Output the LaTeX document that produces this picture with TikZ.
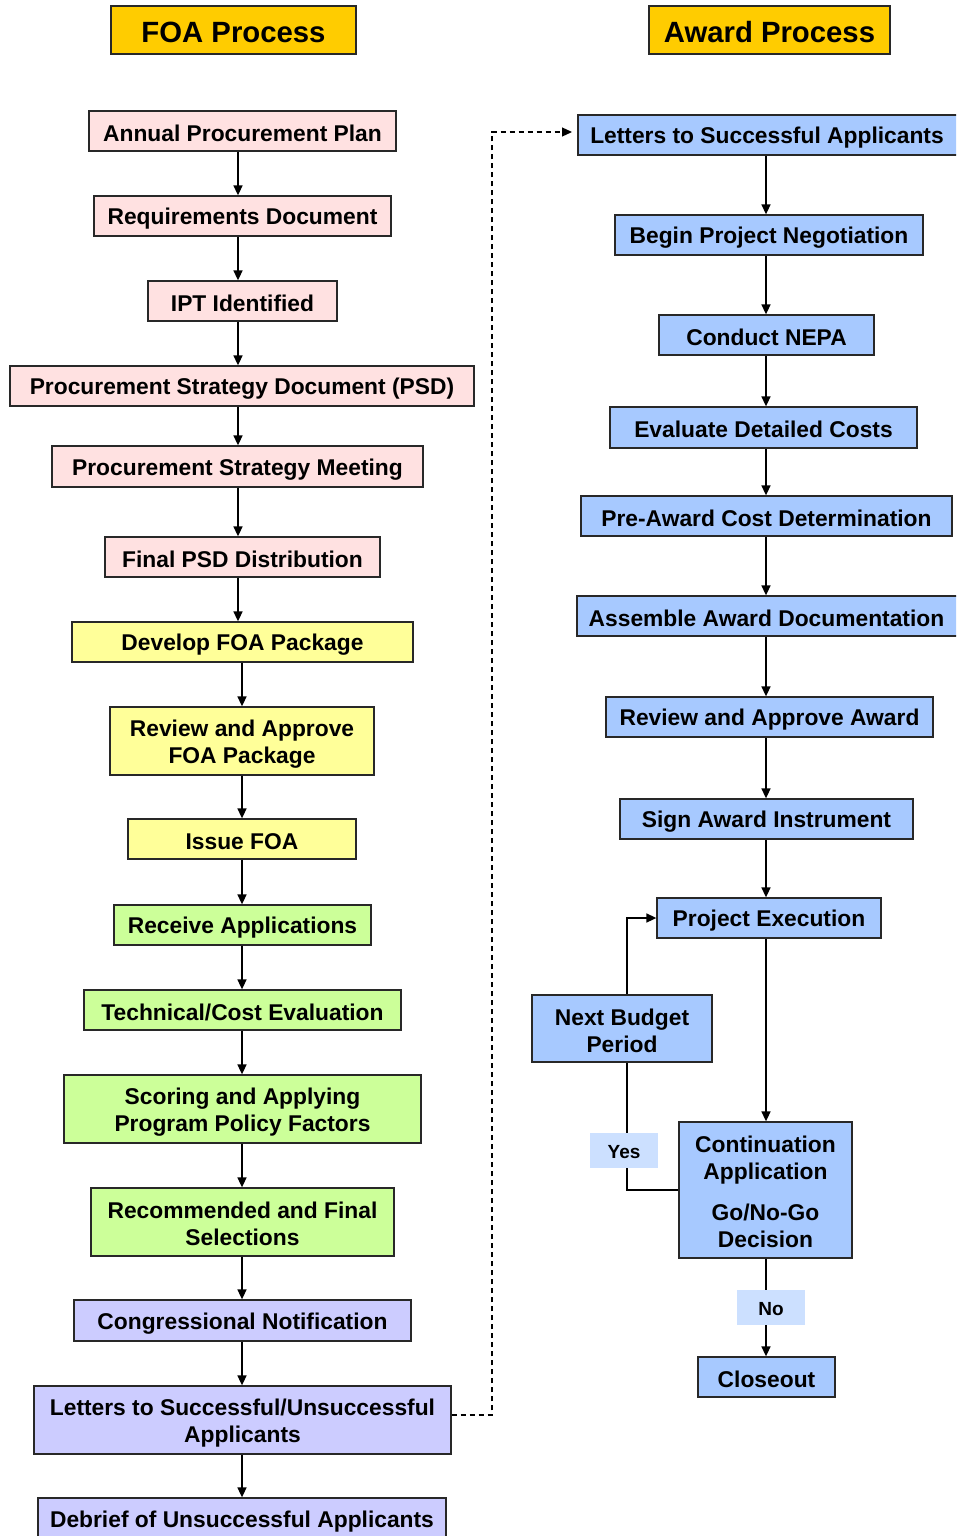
\documentclass[tikz,border=0pt]{standalone}
\usepackage{fontspec}
\setmainfont{Liberation Sans}
\usetikzlibrary{arrows.meta}
\definecolor{gold}{RGB}{255,204,0}
\definecolor{pinkfill}{RGB}{255,225,225}
\definecolor{yellowfill}{RGB}{255,255,153}
\definecolor{greenfill}{RGB}{204,255,153}
\definecolor{lavfill}{RGB}{204,204,255}
\definecolor{bluefill}{RGB}{167,201,255}
\definecolor{labelfill}{RGB}{204,224,255}
\definecolor{edge}{RGB}{40,40,40}
% line strut: keeps capitals centred in their boxes whatever the descenders
\newcommand{\lstrut}{\rule[-0.1em]{0pt}{1.08em}}
\tikzset{
  box/.style={draw=edge, line width=1.3pt, inner sep=0pt, align=center,
    font=\fontsize{22.8}{27}\selectfont\bfseries,
    execute at end node=\lstrut},
  title/.style={box, fill=gold, font=\fontsize{29.3}{34}\selectfont\bfseries},
  pinkbox/.style={box, fill=pinkfill},
  yellowbox/.style={box, fill=yellowfill},
  greenbox/.style={box, fill=greenfill},
  lavbox/.style={box, fill=lavfill},
  bluebox/.style={box, fill=bluefill},
  tag/.style={fill=labelfill, inner sep=0pt, minimum width=68pt, minimum height=35pt,
    font=\fontsize{19}{23}\selectfont\bfseries,
    execute at begin node=\lstrut},
  flow/.style={line width=1.6pt, -{Triangle[length=10pt,width=9pt]}},
  plain/.style={line width=1.6pt},
  dashflow/.style={line width=1.2pt, dash pattern=on 5pt off 4pt, -{Triangle[length=10pt,width=9pt]}}
}
% place a box by its corners: \boxat{style}{name}{x1}{y1}{x2}{y2}{text}
\newcommand{\boxat}[7]{%
  \node[#1, minimum width={(#5)-(#3)}, minimum height={(#6)-(#4)}]
    (#2) at ({((#3)+(#5))/2}, {((#4)+(#6))/2}) {\lstrut#7};}
\begin{document}
\begin{tikzpicture}[x=1pt, y=-1pt]
\useasboundingbox (0,0) rectangle (956,1536);
\clip (0,0) rectangle (956,1536);
\fill[white] (0,0) rectangle (956,1536);

% headings
\boxat{title}{hfoa}{111}{6}{356}{54}{FOA Process}
\boxat{title}{haward}{649}{6}{890}{54}{Award Process}

% FOA process column
\boxat{pinkbox}{apl}{89}{111}{396}{151}{Annual Procurement Plan}
\boxat{pinkbox}{req}{94}{196}{391}{236}{Requirements Document}
\boxat{pinkbox}{ipt}{148}{281}{337}{321}{IPT Identified}
\boxat{pinkbox}{psd}{10}{366}{474}{406}{Procurement Strategy Document (PSD)}
\boxat{pinkbox}{psm}{52}{446}{423}{487}{Procurement Strategy Meeting}
\boxat{pinkbox}{fpsd}{105}{537}{380}{577}{Final PSD Distribution}
\boxat{yellowbox}{dev}{72}{622}{413}{662}{Develop FOA Package}
\boxat{yellowbox}{rev}{110}{707}{374}{775}{Review and Approve\\FOA Package}
\boxat{yellowbox}{issue}{128}{819}{356}{859}{Issue FOA}
\boxat{greenbox}{recv}{114}{905}{371}{945}{Receive Applications}
\boxat{greenbox}{tech}{84}{990}{401}{1030}{Technical/Cost Evaluation}
\boxat{greenbox}{score}{64}{1075}{421}{1143}{Scoring and Applying\\Program Policy Factors}
\boxat{greenbox}{sel}{91}{1188}{394}{1256}{Recommended and Final\\Selections}
\boxat{lavbox}{cong}{74}{1300}{411}{1341}{Congressional Notification}
\boxat{lavbox}{letters}{34}{1386}{451}{1454}{Letters to Successful/Unsuccessful\\Applicants}
\boxat{lavbox}{debrief}{38}{1498}{446}{1540}{Debrief of Unsuccessful Applicants}

% Award process column
\boxat{bluebox}{lsa}{578}{115}{962}{155}{\hspace*{-6pt}Letters to Successful Applicants}
\boxat{bluebox}{bpn}{615}{215}{923}{255}{Begin Project Negotiation}
\boxat{bluebox}{nepa}{659}{315}{874}{355}{Conduct NEPA}
\boxat{bluebox}{edc}{610}{407}{917}{448}{Evaluate Detailed Costs}
\boxat{bluebox}{pacd}{581}{496}{952}{536}{Pre-Award Cost Determination}
\boxat{bluebox}{aad}{577}{596}{962}{636}{\hspace*{-6pt}Assemble Award Documentation}
\boxat{bluebox}{raa}{606}{697}{933}{737}{Review and Approve Award}
\boxat{bluebox}{sai}{620}{799}{913}{839}{Sign Award Instrument}
\boxat{bluebox}{pe}{657}{898}{881}{938}{Project Execution}
\boxat{bluebox}{nbp}{532}{995}{712}{1062}{Next Budget\\Period}
\boxat{bluebox}{cont}{679}{1122}{852}{1258}{Continuation\\Application\\[14pt]Go/No-Go\\Decision}
\boxat{bluebox}{close}{698}{1357}{835}{1397}{Closeout}

% FOA connectors
\foreach \a/\b in {apl/req, req/ipt, ipt/psd, psd/psm, psm/fpsd, fpsd/dev}
  \draw[flow] (\a.south -| 238,0) -- (\b.north -| 238,0);
\foreach \a/\b in {dev/rev, rev/issue, issue/recv, recv/tech, tech/score,
                   score/sel, sel/cong, cong/letters, letters/debrief}
  \draw[flow] (\a.south -| 242,0) -- (\b.north -| 242,0);

% award connectors
\foreach \a/\b in {lsa/bpn, bpn/nepa, nepa/edc, edc/pacd, pacd/aad,
                   aad/raa, raa/sai, sai/pe, pe/cont}
  \draw[flow] (\a.south -| 766,0) -- (\b.north -| 766,0);

% go / no-go branches
\coordinate (yesturn) at (627,1190);
\draw[plain] (cont.west |- yesturn) -- (yesturn) -- (nbp.south -| yesturn);
\draw[flow] (nbp.north -| yesturn) |- (pe.west);
\node[tag] (yes) at (624,1150) {Yes};
\draw[flow] (cont.south -| 766,0) -- (close.north -| 766,0);
\node[tag] (no) at (771,1307) {No};

% hand-off from FOA letters to the award process
\coordinate (dashx) at (492,0);
\coordinate (lsain) at (572,132);
\draw[dashflow] (letters.east |- 0,1415) -| (dashx |- lsain) -- (lsain);
\end{tikzpicture}
\end{document}
